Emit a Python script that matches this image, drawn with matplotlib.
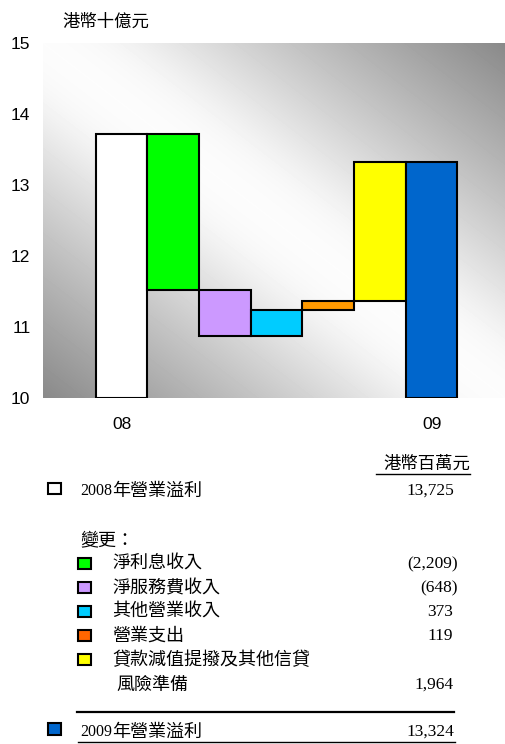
import numpy as np
import matplotlib
matplotlib.use('Agg')
import matplotlib.pyplot as plt
from matplotlib.patches import Rectangle
from matplotlib.lines import Line2D

# data (HK$ millions)
start_val = 13725
end_val = 13324
deltas = [-2209, -648, 373, 119, 1964]
bar_colors = ['#FFFFFF', '#00FF00', '#CC99FF', '#00CCFF', '#FF9900', '#FFFF00', '#0066CC']
yticks = [10, 11, 12, 13, 14, 15]
xlabels = ['08', '', '', '', '', '', '09']

row_labels = ['淨利息收入', '淨服務費收入', '其他營業收入', '營業支出', '貸款減值提撥及其他信貸']
row_values = ['(2,209)', '(648)', '373', '119', '']
key_colors = ['#00FF00', '#CC99FF', '#00CCFF', '#FF6600', '#FFFF00']

W, H = 505, 744
cjk = ['Noto Sans CJK TC', 'DejaVu Sans']
serif = ['Liberation Serif', 'Noto Sans CJK TC']


def px(x, y):
    return x / W, 1 - y / H


# waterfall geometry from data
bottoms, heights = [10.0], [start_val / 1000 - 10]
level = start_val
for d in deltas:
    new = level + d
    bottoms.append(min(level, new) / 1000)
    heights.append(abs(d) / 1000)
    level = new
bottoms.append(10.0)
heights.append(end_val / 1000 - 10)

fig = plt.figure(figsize=(W / 100, H / 100), dpi=100)
ax = fig.add_axes([43 / W, 346 / H, 462 / W, 355 / H])

xlim = (-1.52, 7.42)
ylim = (10, 15)

# grey diagonal gradient background: dark bottom-left and top-right
nx, ny = 462, 355
gx, gy = np.meshgrid(np.linspace(0, 1, nx), np.linspace(0, 1, ny))
t = (gx + (1 - gy)) / 2
s = (np.abs(2 * t - 1) - 0.14) / 0.86
s = 0.5 * (s + np.sqrt(s ** 2 + 0.012))
k = np.clip(s, 0, 1) ** 0.9
grad = 1 - 0.46 * k
ax.imshow(grad, extent=[xlim[0], xlim[1], ylim[0], ylim[1]], aspect='auto',
          cmap='gray', vmin=0, vmax=1, zorder=0, interpolation='bilinear')

x = np.arange(len(heights))
ax.bar(x, heights, bottom=bottoms, width=1.0, color=bar_colors,
       edgecolor='black', linewidth=1.5, zorder=2)

ax.set_xlim(xlim)
ax.set_ylim(ylim)
ax.set_yticks(yticks)
ax.set_yticklabels([str(v) for v in yticks], fontsize=12.5, family='Liberation Sans')
ax.set_xticks(x)
ax.set_xticklabels(xlabels, fontsize=12.5, family='Liberation Sans')
ax.tick_params(axis='y', length=0, pad=9)
ax.tick_params(axis='x', length=0, pad=14)
for sp in ax.spines.values():
    sp.set_visible(False)

fig.text(*px(62, 22), '港幣十億元', family=cjk, fontsize=12.5, va='center', ha='left')

# key table below chart
fig.text(*px(470, 464), '港幣百萬元', family=cjk, fontsize=12.5, va='center', ha='right')
fig.add_artist(Line2D([376 / W, 470 / W], [1 - 474 / H] * 2, color='black', lw=1))


def key_box(x0, y0, w, h, color):
    fig.add_artist(Rectangle(px(x0, y0 + h), w / W, h / H, facecolor=color,
                             edgecolor='black', linewidth=1.5,
                             transform=fig.transFigure))


key_box(48, 483, 13, 11, '#FFFFFF')
fig.text(*px(80, 491), '2008', family=serif, fontsize=11.5, va='center', ha='left')
fig.text(*px(112, 491), '年營業溢利', family=cjk, fontsize=13, va='center', ha='left')
fig.text(*px(454, 491), '13,725', family=serif, fontsize=12.5, va='center', ha='right')

fig.text(*px(80, 540), '變更：', family=cjk, fontsize=13, va='center', ha='left')

for i, (lab, val, col) in enumerate(zip(row_labels, row_values, key_colors)):
    yc = 564 + 24 * i
    key_box(78, yc - 6, 13, 11, col)
    fig.text(*px(112, yc), lab, family=cjk, fontsize=13, va='center', ha='left')
    if val.startswith('('):
        fig.text(*px(458, yc), val, family=serif, fontsize=12.5, va='center', ha='right')
    elif val:
        fig.text(*px(453, yc), val, family=serif, fontsize=12.5, va='center', ha='right')

fig.text(*px(116, 685), '風險準備', family=cjk, fontsize=13, va='center', ha='left')
fig.text(*px(454, 685), '1,964', family=serif, fontsize=12.5, va='center', ha='right')

fig.add_artist(Line2D([77 / W, 454 / W], [1 - 712 / H] * 2, color='black', lw=1.6))

key_box(48, 723, 13, 12, '#0066CC')
fig.text(*px(80, 732), '2009', family=serif, fontsize=11.5, va='center', ha='left')
fig.text(*px(112, 732), '年營業溢利', family=cjk, fontsize=13, va='center', ha='left')
fig.text(*px(454, 732), '13,324', family=serif, fontsize=12.5, va='center', ha='right')
fig.add_artist(Line2D([78 / W, 455 / W], [1 - 742 / H] * 2, color='black', lw=1))

fig.savefig('out.png', dpi=100)
